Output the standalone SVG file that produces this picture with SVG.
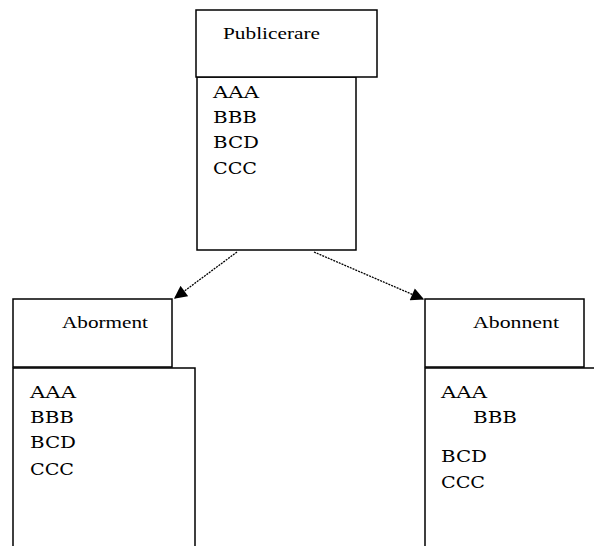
<svg xmlns="http://www.w3.org/2000/svg" width="594" height="546" viewBox="0 0 594 546">
<defs>
<marker id="ah" viewBox="0 0 10 10" refX="9" refY="5" markerWidth="14" markerHeight="13" markerUnits="userSpaceOnUse" orient="auto">
<path d="M0,0 L10,5 L0,10 z" fill="#000"/>
</marker>
<style>
.box{fill:#fff;stroke:#000;stroke-width:1.5}
.lbl{font-family:"Liberation Serif","Times New Roman",serif;font-size:17px;fill:#000}
.itm{font-family:"DejaVu Serif","Liberation Serif",serif;font-size:16px;fill:#000}
.con{stroke:#000;stroke-width:1.3;stroke-dasharray:2 1;fill:none}
</style>
</defs>
<rect width="594" height="546" fill="#fff"/>
<g id="publicerare">
<rect class="box" x="197" y="77" width="159" height="173"/>
<rect class="box" x="196" y="10" width="181" height="67"/>
<text class="lbl" x="223" y="39" textLength="97" lengthAdjust="spacingAndGlyphs">Publicerare</text>
<text class="itm" x="213" y="98" textLength="46" lengthAdjust="spacingAndGlyphs">AAA</text>
<text class="itm" x="213" y="123" textLength="44" lengthAdjust="spacingAndGlyphs">BBB</text>
<text class="itm" x="213" y="148" textLength="46" lengthAdjust="spacingAndGlyphs">BCD</text>
<text class="itm" x="213" y="174" textLength="44" lengthAdjust="spacingAndGlyphs">CCC</text>
</g>
<g id="abonament-left">
<path class="box" d="M13,560 V368 H195 V560"/>
<rect class="box" x="13" y="299" width="159" height="68"/>
<text class="lbl" x="62" y="328" textLength="86" lengthAdjust="spacingAndGlyphs">Aborment</text>
<text class="itm" x="30" y="398" textLength="46" lengthAdjust="spacingAndGlyphs">AAA</text>
<text class="itm" x="30" y="423" textLength="44" lengthAdjust="spacingAndGlyphs">BBB</text>
<text class="itm" x="30" y="448" textLength="46" lengthAdjust="spacingAndGlyphs">BCD</text>
<text class="itm" x="30" y="475" textLength="44" lengthAdjust="spacingAndGlyphs">CCC</text>
</g>
<g id="abonament-right">
<path class="box" d="M425,560 V368 H600"/>
<rect class="box" x="425" y="299" width="159" height="68"/>
<text class="lbl" x="473" y="328" textLength="86" lengthAdjust="spacingAndGlyphs">Abonnent</text>
<text class="itm" x="441" y="398" textLength="46" lengthAdjust="spacingAndGlyphs">AAA</text>
<text class="itm" x="473" y="423" textLength="44" lengthAdjust="spacingAndGlyphs">BBB</text>
<text class="itm" x="441" y="462" textLength="46" lengthAdjust="spacingAndGlyphs">BCD</text>
<text class="itm" x="441" y="488" textLength="44" lengthAdjust="spacingAndGlyphs">CCC</text>
</g>
<g id="connectors">
<line class="con" x1="237" y1="252" x2="175" y2="298" marker-end="url(#ah)"/>
<line class="con" x1="314" y1="252" x2="423" y2="299" marker-end="url(#ah)"/>
</g>
</svg>
